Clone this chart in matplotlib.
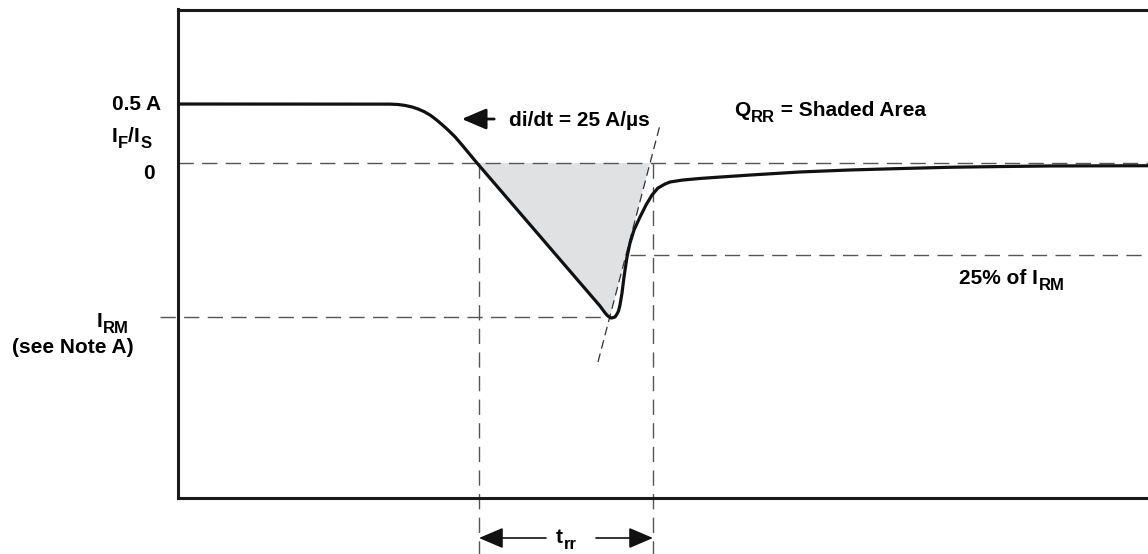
import matplotlib.pyplot as plt
import matplotlib.transforms as mtransforms
from matplotlib.patches import FancyArrowPatch

plt.rcParams['font.family'] = ['Liberation Sans', 'DejaVu Sans']
plt.rcParams['font.weight'] = 'bold'

# reverse recovery waveform, time in ns, current in A
t_ns = [0, 84.8, 88, 90.8, 93.6, 96, 98.4, 100.8, 103.2, 105.6, 108, 110.8, 113.6, 119.6,
        168.8, 170.4, 171.2, 172, 172.8, 173.4, 174.8, 175.6, 176.2, 176.8, 177.6,
        178.4, 179.6, 180.8, 182.4, 184.8, 187.2, 189.6, 192, 194.8, 196.8, 199.2,
        202, 208.8, 216.8, 228.8, 248.8, 268.8, 288.8, 308.8, 328.8, 348.8, 368.8, 388]
i_amp = [0.5, 0.499, 0.496, 0.488, 0.475, 0.458, 0.436, 0.407, 0.369, 0.326, 0.28, 0.222, 0.153, 0.0,
         -1.212, -1.258, -1.28, -1.297, -1.309, -1.314, -1.305, -1.28, -1.254, -1.203, -1.102,
         -0.966, -0.797, -0.678, -0.568, -0.458, -0.356, -0.271, -0.212, -0.178, -0.161, -0.153,
         -0.144, -0.131, -0.119, -0.102, -0.076, -0.059, -0.047, -0.036, -0.03, -0.025, -0.024, -0.023]

i_rm = -1.305
i_25 = -0.78
t_zero = 119.6       # zero crossing of the waveform
t_start = 120.4      # start of trr
t_end = 190.0        # end of trr
t_min = 172.8
tangent_t = [168.0, 192.8]
tangent_i = [-1.686, 0.322]
t_shade_top = 188.8

fig = plt.figure(figsize=(11.48, 5.54), dpi=100)
ax = fig.add_axes([178 / 1148, 56 / 554, 970 / 1148, 488.5 / 554])
ax.set_xlim(0, 388)
ax.set_ylim(-2.839, 1.301)
ax.set_xticks([])
ax.set_yticks([])
ax.spines['right'].set_visible(False)
for s in ['left', 'top', 'bottom']:
    ax.spines[s].set_linewidth(2.2)
    ax.spines[s].set_color('#1a1a1a')

# shaded Q_RR area: curve from zero crossing down to I_RM, back up along tangent
n0 = t_ns.index(t_zero)
n1 = t_ns.index(t_min)
poly_t = t_ns[n0:n1 + 1] + [t_shade_top]
poly_i = i_amp[n0:n1 + 1] + [0.0]
ax.fill(poly_t, poly_i, color='#e0e1e3', lw=0, zorder=1)

dash = dict(color='#555555', lw=1.0, dashes=(11, 6), zorder=2)
ax.plot([0, 388], [0, 0], **dash)
ax.plot([-7.2, t_min], [i_rm, i_rm], clip_on=False, **dash)
ax.plot([180.8, 388], [i_25, i_25], **dash)
ax.plot([t_start, t_start], [0, -3.32], clip_on=False, **dash)
ax.plot([t_end, t_end], [0, -3.32], clip_on=False, **dash)
ax.plot(tangent_t, tangent_i, color='#333333', lw=0.9, dashes=(7, 4), zorder=2)

ax.plot(t_ns, i_amp, color='#111111', lw=2.3, solid_capstyle='butt',
        solid_joinstyle='round', zorder=3)

fs = 15
renderer = fig.canvas.get_renderer()


def label(x, y, parts, ha='left'):
    # parts: list of (text, is_subscript); drawn left to right on one baseline
    objs, widths = [], []
    for s, sub in parts:
        t = ax.text(x, y, s, fontsize=fs * 0.8 if sub else fs, ha='left',
                    va='baseline', clip_on=False)
        w = t.get_window_extent(renderer).width * 72 / fig.dpi
        widths.append(w + (0.8 if sub else 0))
        objs.append((t, sub))
    total = sum(widths)
    off = {'left': 0, 'center': -total / 2, 'right': -total}[ha]
    for (t, sub), w in zip(objs, widths):
        t.set_transform(mtransforms.offset_copy(ax.transData, fig=fig,
                                                x=off + (0.8 if sub else 0),
                                                y=-4.5 if sub else 0, units='points'))
        off += w


ax.text(-6.8, 0.5, '0.5 A', ha='right', va='center', fontsize=fs, clip_on=False)
label(-10.4, 0.178, [('I', False), ('F', True), ('/', False), ('I', False), ('S', True)], ha='right')
ax.text(-9.2, -0.136, '0', ha='right', va='baseline', fontsize=fs, clip_on=False)
label(-19.6, -1.386, [('I', False), ('RM', True)], ha='right')
ax.text(-17.6, -1.614, '(see Note A)', ha='right', va='baseline', fontsize=fs, clip_on=False)

ax.annotate('', xy=(112.4, 0.373), xytext=(127.6, 0.373),
            arrowprops=dict(arrowstyle='-|>,head_length=0.75,head_width=0.32',
                            color='#111111', lw=2, mutation_scale=20))
ax.text(132.4, 0.314, 'di/dt = 25 A/µs', ha='left', va='baseline', fontsize=fs)
label(222.4, 0.398, [('Q', False), ('RR', True), (' = Shaded Area', False)])
label(312.4, -1.025, [('25% of I', False), ('RM', True)])

# trr dimension arrows
y_arr = -3.178
for x0, x1 in [(147.2, t_start), (167.2, t_end)]:
    a = FancyArrowPatch((x0, y_arr), (x1, y_arr),
                        arrowstyle='-|>,head_length=0.75,head_width=0.32',
                        mutation_scale=20, color='#111111', lw=1.2, clip_on=False,
                        shrinkA=0, shrinkB=0)
    ax.add_patch(a)
label(155.2, -3.22, [('t', False), ('rr', True)], ha='center')

fig.savefig('out.png', dpi=100)
